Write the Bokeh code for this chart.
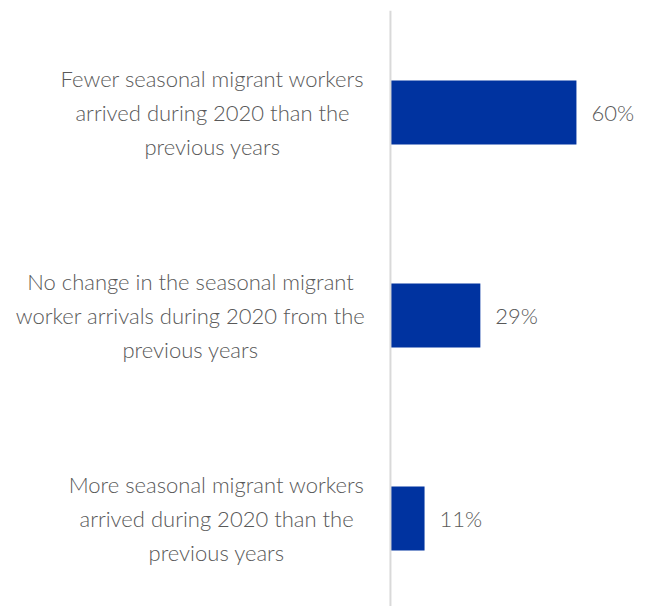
from bokeh.plotting import figure
from bokeh.models import Span, ColumnDataSource
from bokeh.core.properties import value
from bokeh.embed import file_html
from bokeh.resources import INLINE

categories = [
    "Fewer seasonal migrant workers\narrived during 2020 than the\nprevious years",
    "No change in the seasonal migrant\nworker arrivals during 2020 from the\nprevious years",
    "More seasonal migrant workers\narrived during 2020 than the\nprevious years",
]
values = [60, 29, 11]
value_labels = ["60%", "29%", "11%"]

# layout (not data): horizontal centre of each label block, in data units
label_centres = [-57.4, -64.5, -56.1]

ypos = list(range(len(categories)))

FONT = "Lato Light, Lato"
GREY = "#595959"
BLUE = "#0033A0"

p = figure(width=646, height=606, output_backend="svg", toolbar_location=None,
           x_range=(-125.8, 82.6), y_range=(2.4335, -0.5025),
           min_border_left=0, min_border_right=0, min_border_top=10, min_border_bottom=0)
p.xaxis.visible = False
p.yaxis.visible = False
p.xgrid.visible = False
p.ygrid.visible = False
p.outline_line_color = None
p.background_fill_color = "white"
p.border_fill_color = "white"

src = ColumnDataSource(dict(y=ypos, v=values, lab=value_labels, cat=categories, lx=label_centres))

p.hbar(y="y", right="v", left=0, height=0.315, source=src, fill_color=BLUE, line_color=None)

p.add_layout(Span(location=0, dimension="height", line_color="#D9D9D9", line_width=2))

p.text(x="v", y="y", text="lab", source=src, x_offset=15, text_align="left",
       text_baseline="middle", text_font=value(FONT), text_font_size="22px",
       text_color=GREY, text_font_style="normal")

p.text(x="lx", y="y", text="cat", source=src, text_align="center",
       text_baseline="middle", text_font=value(FONT), text_font_size="22px",
       text_color=GREY, text_line_height=1.25)

open("out.html", "w").write(file_html(p, INLINE))
